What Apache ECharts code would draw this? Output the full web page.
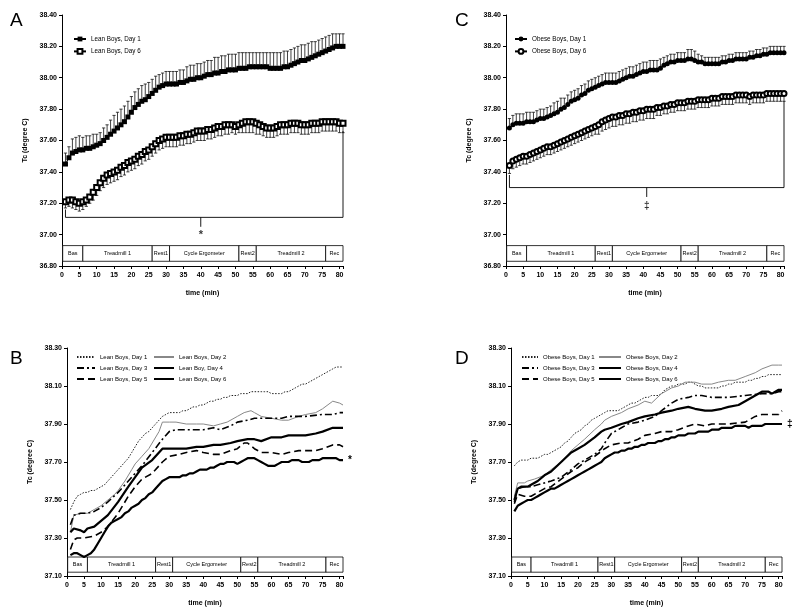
<!DOCTYPE html>
<html><head><meta charset="utf-8">
<script src="https://cdn.jsdelivr.net/npm/echarts@6/dist/echarts.min.js"></script>
<style>
html,body{margin:0;padding:0;background:#fff;width:800px;height:612px;overflow:hidden}
.p{position:absolute;width:400px;height:306px}
</style></head><body>
<div id="pA" class="p" style="left:0;top:0"></div>
<div id="pC" class="p" style="left:400px;top:0"></div>
<div id="pB" class="p" style="left:0;top:306px"></div>
<div id="pD" class="p" style="left:400px;top:306px"></div>
<script>
// ---------------- DATA ----------------
const minutes = [1,2,3,4,5,6,7,8,9,10,11,12,13,14,15,16,17,18,19,20,21,22,23,24,25,26,27,28,29,30,31,32,33,34,35,36,37,38,39,40,41,42,43,44,45,46,47,48,49,50,51,52,53,54,55,56,57,58,59,60,61,62,63,64,65,66,67,68,69,70,71,72,73,74,75,76,77,78,79,80,81];

const leanDay1 = [37.45,37.49,37.52,37.53,37.54,37.54,37.55,37.55,37.56,37.57,37.58,37.60,37.62,37.64,37.66,37.68,37.70,37.72,37.75,37.78,37.81,37.83,37.85,37.86,37.88,37.90,37.92,37.94,37.95,37.96,37.96,37.96,37.96,37.97,37.97,37.98,37.99,37.99,38.00,38.00,38.01,38.02,38.02,38.03,38.03,38.04,38.04,38.05,38.05,38.05,38.06,38.06,38.06,38.07,38.07,38.07,38.07,38.07,38.07,38.06,38.06,38.06,38.06,38.07,38.07,38.08,38.09,38.10,38.11,38.11,38.12,38.13,38.14,38.15,38.16,38.17,38.18,38.19,38.20,38.20,38.20];
const leanDay1Err = [0.07,0.07,0.09,0.09,0.09,0.08,0.08,0.08,0.08,0.07,0.07,0.08,0.08,0.09,0.10,0.10,0.10,0.10,0.10,0.10,0.10,0.10,0.10,0.10,0.09,0.09,0.09,0.08,0.08,0.08,0.08,0.08,0.08,0.08,0.08,0.09,0.09,0.09,0.09,0.09,0.09,0.09,0.09,0.10,0.10,0.10,0.10,0.10,0.10,0.10,0.10,0.10,0.10,0.09,0.09,0.09,0.09,0.09,0.09,0.10,0.10,0.10,0.10,0.10,0.10,0.10,0.10,0.10,0.10,0.10,0.10,0.10,0.09,0.09,0.09,0.09,0.09,0.09,0.08,0.08,0.08];
const leanDay6 = [37.21,37.22,37.22,37.21,37.20,37.21,37.22,37.24,37.27,37.30,37.33,37.36,37.38,37.39,37.40,37.41,37.43,37.44,37.46,37.47,37.48,37.50,37.51,37.53,37.54,37.56,37.58,37.60,37.61,37.62,37.62,37.62,37.62,37.63,37.63,37.64,37.64,37.65,37.66,37.66,37.66,37.67,37.67,37.68,37.69,37.69,37.70,37.70,37.70,37.69,37.70,37.71,37.72,37.72,37.72,37.71,37.70,37.69,37.68,37.68,37.68,37.69,37.70,37.70,37.70,37.71,37.71,37.71,37.70,37.70,37.70,37.71,37.71,37.71,37.72,37.72,37.72,37.72,37.72,37.71,37.71];
const leanDay6Err = [0.04,0.04,0.05,0.05,0.05,0.05,0.04,0.04,0.05,0.05,0.05,0.06,0.06,0.06,0.06,0.06,0.06,0.06,0.06,0.06,0.06,0.06,0.06,0.06,0.06,0.06,0.06,0.06,0.06,0.06,0.06,0.06,0.06,0.06,0.06,0.06,0.06,0.06,0.06,0.06,0.06,0.06,0.06,0.06,0.06,0.06,0.06,0.06,0.05,0.05,0.05,0.06,0.07,0.07,0.07,0.07,0.06,0.06,0.06,0.06,0.06,0.06,0.06,0.06,0.06,0.06,0.06,0.06,0.06,0.06,0.06,0.06,0.06,0.06,0.06,0.06,0.06,0.06,0.06,0.06,0.06];

const obeseDay1 = [37.68,37.70,37.71,37.71,37.71,37.72,37.72,37.72,37.73,37.74,37.74,37.75,37.76,37.77,37.78,37.80,37.81,37.83,37.85,37.86,37.87,37.89,37.90,37.92,37.93,37.94,37.95,37.96,37.97,37.97,37.97,37.97,37.98,37.99,38.00,38.01,38.01,38.02,38.03,38.04,38.04,38.05,38.05,38.05,38.06,38.08,38.09,38.10,38.10,38.11,38.11,38.11,38.12,38.12,38.11,38.10,38.10,38.09,38.09,38.09,38.09,38.09,38.10,38.10,38.11,38.11,38.12,38.12,38.12,38.12,38.13,38.13,38.14,38.14,38.15,38.15,38.16,38.16,38.16,38.16,38.16];
const obeseDay1Err = [0.06,0.06,0.06,0.06,0.06,0.06,0.06,0.06,0.06,0.06,0.06,0.06,0.06,0.07,0.07,0.07,0.06,0.06,0.06,0.06,0.06,0.06,0.06,0.06,0.06,0.06,0.06,0.06,0.06,0.06,0.06,0.06,0.06,0.06,0.06,0.06,0.06,0.06,0.06,0.06,0.06,0.06,0.06,0.06,0.06,0.05,0.05,0.05,0.05,0.05,0.05,0.05,0.06,0.06,0.06,0.05,0.04,0.04,0.04,0.04,0.04,0.04,0.04,0.04,0.04,0.04,0.04,0.04,0.04,0.04,0.04,0.04,0.04,0.04,0.04,0.04,0.04,0.04,0.04,0.04,0.04];
const obeseDay6 = [37.44,37.47,37.48,37.49,37.50,37.50,37.51,37.52,37.53,37.54,37.55,37.56,37.56,37.57,37.58,37.59,37.60,37.61,37.62,37.63,37.64,37.65,37.66,37.67,37.68,37.69,37.70,37.72,37.73,37.74,37.75,37.75,37.76,37.76,37.77,37.77,37.78,37.78,37.79,37.79,37.80,37.80,37.80,37.81,37.81,37.82,37.82,37.83,37.83,37.84,37.84,37.84,37.85,37.85,37.85,37.86,37.86,37.86,37.86,37.87,37.87,37.87,37.88,37.88,37.88,37.88,37.89,37.89,37.89,37.89,37.88,37.89,37.89,37.89,37.89,37.90,37.90,37.90,37.90,37.90,37.90];
const obeseDay6Err = [0.05,0.05,0.05,0.05,0.05,0.05,0.05,0.05,0.05,0.05,0.05,0.05,0.05,0.05,0.05,0.05,0.05,0.05,0.05,0.05,0.05,0.05,0.05,0.05,0.05,0.05,0.06,0.06,0.06,0.06,0.06,0.06,0.06,0.06,0.06,0.06,0.06,0.06,0.06,0.06,0.06,0.06,0.06,0.05,0.05,0.05,0.05,0.05,0.05,0.05,0.05,0.05,0.05,0.05,0.05,0.05,0.05,0.05,0.05,0.05,0.05,0.05,0.05,0.05,0.05,0.05,0.05,0.05,0.05,0.05,0.05,0.05,0.05,0.05,0.05,0.05,0.05,0.05,0.05,0.05,0.05];

const leanDay2 = [[1,37.33],[2,37.42],[4,37.43],[6,37.43],[8,37.45],[10,37.47],[12,37.50],[14,37.53],[15,37.55],[17,37.60],[19,37.66],[20,37.69],[22,37.73],[24,37.77],[25,37.80],[27,37.86],[28,37.91],[30,37.91],[32,37.91],[35,37.90],[38,37.90],[40,37.90],[43,37.89],[45,37.90],[47,37.91],[50,37.94],[52,37.96],[54,37.97],[55,37.96],[57,37.94],[60,37.93],[63,37.92],[65,37.92],[68,37.94],[70,37.95],[73,37.96],[75,37.98],[78,38.02],[80,38.01],[81,38.00]];
const leanDay3 = [[1,37.37],[2,37.42],[4,37.43],[6,37.43],[8,37.44],[10,37.46],[12,37.49],[15,37.54],[18,37.60],[20,37.64],[22,37.68],[25,37.75],[28,37.82],[30,37.86],[32,37.87],[35,37.87],[38,37.87],[40,37.87],[43,37.88],[45,37.87],[48,37.89],[50,37.91],[53,37.92],[55,37.93],[58,37.93],[60,37.93],[63,37.93],[65,37.94],[70,37.94],[75,37.95],[78,37.95],[80,37.96],[81,37.96]];
const leanDay4 = [[1,37.33],[2,37.35],[4,37.34],[5,37.33],[6,37.35],[8,37.36],[10,37.39],[12,37.42],[15,37.49],[18,37.57],[20,37.62],[22,37.67],[25,37.71],[27,37.75],[28,37.77],[30,37.77],[33,37.77],[35,37.77],[38,37.78],[40,37.78],[43,37.79],[45,37.79],[48,37.80],[50,37.81],[53,37.82],[55,37.82],[57,37.81],[60,37.83],[63,37.83],[65,37.84],[68,37.84],[70,37.84],[73,37.85],[75,37.86],[78,37.88],[80,37.88],[81,37.88]];
const leanDay5 = [[1,37.24],[2,37.29],[3,37.30],[5,37.30],[8,37.31],[10,37.33],[12,37.36],[15,37.43],[18,37.52],[20,37.57],[22,37.61],[25,37.64],[28,37.70],[30,37.73],[33,37.74],[35,37.75],[38,37.76],[40,37.75],[43,37.74],[45,37.74],[48,37.76],[50,37.77],[52,37.80],[53,37.80],[55,37.77],[57,37.75],[60,37.75],[63,37.74],[65,37.75],[68,37.76],[70,37.76],[73,37.76],[75,37.77],[78,37.79],[80,37.79],[81,37.78]];

const obeseDay2 = [[1,37.52],[2,37.59],[4,37.59],[5,37.60],[7,37.61],[10,37.63],[12,37.66],[15,37.70],[18,37.76],[20,37.79],[22,37.82],[25,37.87],[27,37.90],[28,37.92],[30,37.94],[33,37.96],[35,37.98],[38,38.00],[40,38.02],[42,38.01],[45,38.06],[48,38.09],[50,38.10],[52,38.12],[55,38.12],[57,38.11],[60,38.11],[62,38.12],[65,38.13],[67,38.13],[70,38.15],[73,38.17],[75,38.19],[78,38.21],[80,38.21],[81,38.21]];
const obeseDay3 = [[1,37.49],[2,37.56],[4,37.57],[6,37.57],[8,37.58],[10,37.59],[12,37.60],[15,37.62],[18,37.66],[20,37.69],[22,37.71],[25,37.74],[27,37.77],[28,37.80],[30,37.85],[33,37.88],[35,37.90],[38,37.91],[40,37.92],[43,37.94],[45,37.97],[48,38.01],[50,38.03],[53,38.04],[55,38.05],[57,38.05],[60,38.04],[63,38.04],[65,38.04],[70,38.05],[75,38.06],[78,38.06],[80,38.07],[81,38.07]];
const obeseDay4 = [[1,37.50],[2,37.56],[3,37.57],[5,37.57],[6,37.58],[8,37.60],[10,37.63],[12,37.65],[15,37.70],[18,37.75],[20,37.77],[22,37.79],[25,37.83],[27,37.86],[28,37.87],[30,37.88],[33,37.90],[35,37.91],[38,37.93],[40,37.94],[43,37.95],[45,37.96],[48,37.97],[50,37.98],[53,37.99],[55,37.98],[58,37.97],[60,37.97],[63,37.98],[65,37.99],[68,38.00],[70,38.02],[73,38.05],[75,38.07],[77,38.07],[78,38.06],[79,38.07],[80,38.08],[81,38.08]];
const obeseDay5 = [[1,37.48],[2,37.53],[4,37.52],[6,37.52],[8,37.54],[10,37.56],[12,37.57],[15,37.61],[18,37.65],[20,37.67],[22,37.70],[25,37.73],[28,37.77],[30,37.79],[33,37.80],[35,37.80],[38,37.82],[40,37.84],[43,37.85],[45,37.86],[48,37.86],[50,37.87],[53,37.89],[55,37.90],[58,37.89],[60,37.90],[65,37.90],[70,37.91],[73,37.94],[75,37.95],[78,37.95],[80,37.95],[81,37.97]];

const phaseNames = ['Bas','Treadmill 1','Rest1','Cycle Ergometer','Rest2','Treadmill 2','Rec'];
const phaseEdges = [0.2,6,26,31,51,56,76,81];
const topYAxis = [36.80, 38.40, 0.20];      // min, max, step (panels A, C)
const bottomYAxis = [37.10, 38.30, 0.20];   // min, max, step (panels B, D)
const xAxisRange = [0, 81, 5];
const topPhaseBand = [36.83, 36.93];
const bottomPhaseBand = [37.12, 37.20];
// significance brackets: [x,y] vertices
const bracketA = [[1,37.16],[1,37.11],[81,37.11],[81,37.66]];
const bracketATick = [[40,37.11],[40,37.05]];
const markA = [[40,37.00]];
const bracketC = [[1,37.38],[1,37.30],[81,37.30],[81,37.85]];
const bracketCTick = [[41,37.30],[41,37.24]];
const markC = [[41,37.18]];

// ---------------- HELPERS ----------------
const F = "'Liberation Sans', Arial, sans-serif";
const NF = "'Liberation Sans', Arial, sans-serif";

function pairs(vals){ return vals.map((v,i)=>[minutes[i], v]); }

function errBars(vals, errs, dir){
  return {
    type:'custom', silent:true, z:1,
    data: vals.map((v,i)=>[minutes[i], v, +(v + dir*errs[i]).toFixed(3)]),
    renderItem(params, api){
      const p0 = api.coord([api.value(0), api.value(1)]);
      const p1 = api.coord([api.value(0), api.value(2)]);
      return {type:'group', children:[
        {type:'line', shape:{x1:p0[0],y1:p0[1],x2:p1[0],y2:p1[1]}, style:{stroke:'#111', lineWidth:0.8}},
        {type:'line', shape:{x1:p1[0]-1.6,y1:p1[1],x2:p1[0]+1.6,y2:p1[1]}, style:{stroke:'#111', lineWidth:0.8}}
      ]};
    }
  };
}

function phaseSeries(band){
  return {
    type:'line', data:[], silent:true, z:0,
    markArea:{
      silent:true,
      itemStyle:{color:'#fff', borderColor:'#000', borderWidth:0.8},
      label:{show:true, position:'inside', fontSize:5.5, fontFamily:NF, color:'#000'},
      data: phaseNames.map((n,i)=>[{name:n, xAxis:phaseEdges[i], yAxis:band[0]},{xAxis:phaseEdges[i+1], yAxis:band[1]}])
    }
  };
}

function polySeries(pts){
  return {type:'line', data:pts, symbol:'none', silent:true, lineStyle:{color:'#000', width:0.9}, z:2};
}

function textMark(pts, txt, size){
  return {type:'scatter', data:pts, symbolSize:0.1, silent:true, itemStyle:{color:'#fff'},
    label:{show:true, position:'inside', formatter:txt, fontSize:size, fontWeight:'bold', fontFamily:F, color:'#000'}};
}

function baseOption(letter, letterLeft, letterTop, grid, yr){
  return {
    animation:false,
    backgroundColor:'#fff',
    title:{text:letter, left:letterLeft, top:letterTop, textStyle:{fontSize:19, fontWeight:'normal', fontFamily:F, color:'#000'}},
    grid:grid,
    xAxis:{type:'value', min:xAxisRange[0], max:xAxisRange[1], interval:xAxisRange[2],
      name:'time (min)', nameLocation:'middle', nameGap:24,
      nameTextStyle:{fontSize:7, fontWeight:'bold', fontFamily:F, color:'#000'},
      axisLine:{onZero:false, lineStyle:{color:'#000', width:1}},
      axisTick:{show:true, length:3, lineStyle:{color:'#000'}},
      axisLabel:{fontSize:7, fontWeight:'bold', fontFamily:F, color:'#000', margin:6,
        formatter:v=> (v % 5 === 0 ? String(v) : '')},
      splitLine:{show:false}},
    yAxis:{type:'value', min:yr[0], max:yr[1], interval:yr[2],
      name:'Tc (degree C)', nameLocation:'middle', nameGap:29, nameRotate:90,
      nameTextStyle:{fontSize:7, fontWeight:'bold', fontFamily:F, color:'#000'},
      axisLine:{show:true, onZero:false, lineStyle:{color:'#000', width:1}},
      axisTick:{show:true, length:3, lineStyle:{color:'#000'}},
      axisLabel:{fontSize:7, fontWeight:'bold', fontFamily:F, color:'#000', margin:5,
        formatter:v=>v.toFixed(2)},
      splitLine:{show:false}},
    series:[]
  };
}

function topPanel(el, letter, letterLeft, grid, names, d1, e1, d6, e6, sym, bracket, tick, mark, markTxt, markSize, legLeft){
  const opt = baseOption(letter, letterLeft, 6, grid, topYAxis);
  opt.legend = {left:legLeft, top:31, orient:'vertical', itemWidth:12, itemHeight:6, itemGap:6,
    data:names, textStyle:{fontSize:6.3, fontFamily:NF, color:'#000'}};
  opt.series = [
    phaseSeries(topPhaseBand),
    polySeries(bracket), polySeries(tick), textMark(mark, markTxt, markSize),
    errBars(d1, e1, 1), errBars(d6, e6, -1),
    {name:names[0], type:'line', data:pairs(d1), symbol:sym, symbolSize:5, z:3,
      itemStyle:{color:'#000'}, lineStyle:{color:'#000', width:1}},
    {name:names[1], type:'line', data:pairs(d6), symbol:'empty'+sym.charAt(0).toUpperCase()+sym.slice(1), symbolSize:5, z:3,
      itemStyle:{color:'#000', borderColor:'#000', borderWidth:0.7}, lineStyle:{color:'#000', width:1}}
  ];
  echarts.init(document.getElementById(el), null, {renderer:'canvas'}).setOption(opt);
}

function bottomPanel(el, letter, letterLeft, grid, names, lines, endTxt, leg1, leg2, w1, w2){
  const opt = baseOption(letter, letterLeft, 38, grid, bottomYAxis);
  const styles = [
    {color:'#222', width:1, type:[1.5,1.5]},
    {color:'#888', width:1, type:'solid'},
    {color:'#000', width:1.6, type:[7,3,2,3]},
    {color:'#000', width:2.2, type:'solid'},
    {color:'#000', width:1.6, type:[7,4]},
    {color:'#000', width:2.2, type:'solid'}
  ];
  const legText = {fontSize:6, fontFamily:NF, color:'#000'};
  opt.legend = [
    {left:leg1, top:43, orient:'vertical', itemWidth:w1, itemHeight:6, itemGap:5, itemStyle:{opacity:0},
      data:[names[0],names[2],names[4]], textStyle:legText},
    {left:leg2, top:43, orient:'vertical', itemWidth:w2, itemHeight:6, itemGap:5, itemStyle:{opacity:0},
      data:[names[1],names[3],names[5]], textStyle:legText}
  ];
  opt.series = [phaseSeries(bottomPhaseBand)];
  lines.forEach((d,i)=>{
    const s = {name:names[i], type:'line', data:d, symbol:'none', showSymbol:false, z:3+i,
      itemStyle:{color:styles[i].color}, lineStyle:styles[i]};
    if (i === 5) s.endLabel = {show:true, formatter:endTxt, distance:5, fontSize:10, fontWeight:'bold', fontFamily:F, color:'#000'};
    opt.series.push(s);
  });
  echarts.init(document.getElementById(el), null, {renderer:'canvas'}).setOption(opt);
}

// ---------------- PANELS ----------------
topPanel('pA','A',5,{left:62, top:15, width:281, height:251},
  ['Lean Boys, Day 1','Lean Boys, Day 6'], leanDay1, leanDay1Err, leanDay6, leanDay6Err, 'rect',
  bracketA, bracketATick, markA, '*', 11, 68);
topPanel('pC','C',50,{left:106, top:15, width:278, height:251},
  ['Obese Boys, Day 1','Obese Boys, Day 6'], obeseDay1, obeseDay1Err, obeseDay6, obeseDay6Err, 'circle',
  bracketC, bracketCTick, markC, '‡', 10, 109);
bottomPanel('pB','B',5,{left:67, top:42, width:276, height:229},
  ['Lean Boys, Day 1','Lean Boys, Day 2','Lean Boys, Day 3','Lean Boy, Day 4','Lean Boys, Day 5','Lean Boys, Day 6'],
  [pairs(leanDay1), leanDay2, leanDay3, leanDay4, leanDay5, pairs(leanDay6)], '*', 71, 148, 18, 20);
bottomPanel('pD','D',50,{left:111, top:42, width:271, height:229},
  ['Obese Boys, Day 1','Obese Boys, Day 2','Obese Boys, Day 3','Obese Boys, Day 4','Obese Boys, Day 5','Obese Boys, Day 6'],
  [pairs(obeseDay1), obeseDay2, obeseDay3, obeseDay4, obeseDay5, pairs(obeseDay6)], '‡', 116, 193, 16, 22);
</script>
</body></html>
